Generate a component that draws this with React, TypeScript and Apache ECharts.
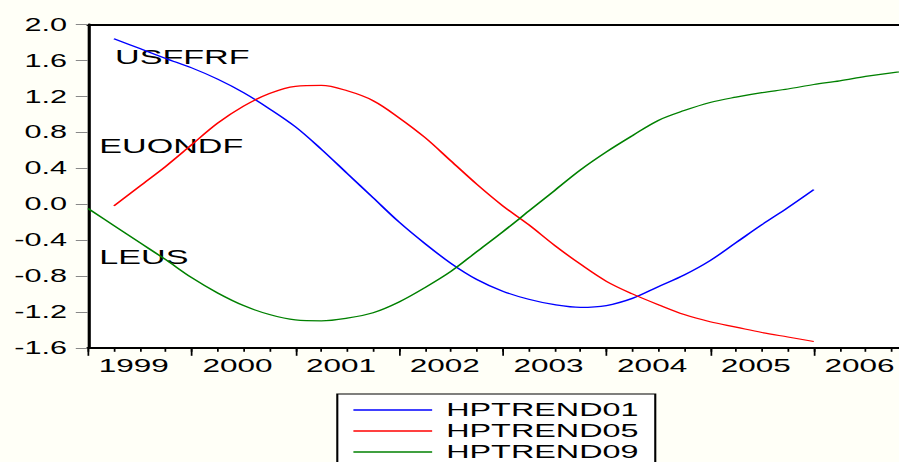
import React, { useEffect, useRef } from "react";
import * as echarts from "echarts";

// Quarterly periods, 1999Q1 .. 2007Q1 (index 0 .. 32)
const quarters: string[] = [
  "1999Q1", "1999Q2", "1999Q3", "1999Q4",
  "2000Q1", "2000Q2", "2000Q3", "2000Q4",
  "2001Q1", "2001Q2", "2001Q3", "2001Q4",
  "2002Q1", "2002Q2", "2002Q3", "2002Q4",
  "2003Q1", "2003Q2", "2003Q3", "2003Q4",
  "2004Q1", "2004Q2", "2004Q3", "2004Q4",
  "2005Q1", "2005Q2", "2005Q3", "2005Q4",
  "2006Q1", "2006Q2", "2006Q3", "2006Q4",
  "2007Q1",
];

const hptrend01: (number | null)[] = [
  null, 1.84, 1.73, 1.62, 1.515, 1.39, 1.24, 1.06, 0.86, 0.61, 0.34, 0.07,
  -0.2, -0.44, -0.66, -0.84, -0.97, -1.06, -1.12, -1.15, -1.13, -1.05, -0.92,
  -0.79, -0.63, -0.43, -0.23, -0.04, 0.16, null, null, null, null,
];

const hptrend05: (number | null)[] = [
  null, -0.02, 0.2, 0.42, 0.66, 0.9, 1.09, 1.23, 1.31, 1.32, 1.26, 1.15,
  0.96, 0.74, 0.48, 0.22, -0.02, -0.23, -0.46, -0.67, -0.86, -1.0, -1.12,
  -1.23, -1.31, -1.37, -1.43, -1.48, -1.53, null, null, null, null,
];

const hptrend09: (number | null)[] = [
  -0.05, -0.24, -0.43, -0.62, -0.82, -0.99, -1.13, -1.23, -1.29, -1.3, -1.27,
  -1.21, -1.09, -0.93, -0.75, -0.53, -0.31, -0.08, 0.15, 0.38, 0.58, 0.76,
  0.93, 1.04, 1.13, 1.19, 1.24, 1.28, 1.33, 1.37, 1.42, 1.46, 1.49,
];

const seriesNames = ["HPTREND01", "HPTREND05", "HPTREND09"];
const seriesValues = [hptrend01, hptrend05, hptrend09];
const seriesColors = ["#0000ff", "#ff0000", "#008000"];

const annotations = ["USFFRF", "EUONDF", "LEUS"];

// The reference is horizontally stretched; draw at a narrower width and scale.
const S = 1.75;
const W = 540;
const H = 462;
const FONT = "'Liberation Sans', Arial, sans-serif";

export default function App() {
  const ref = useRef<HTMLDivElement>(null);

  useEffect(() => {
    if (!ref.current) return;
    const chart = echarts.init(ref.current, null, { renderer: "svg", width: W, height: H });

    const toPairs = (arr: (number | null)[]) =>
      arr
        .map((v, i) => (v == null ? null : [i, v]))
        .filter((p) => p !== null) as number[][];

    const xBase = {
      type: "value" as const,
      min: 0,
      max: quarters.length - 1,
      gridIndex: 0,
      splitLine: { show: false },
    };

    const annX = [115 / S, 99.3 / S, 99.3 / S];
    const annY = [57.5, 146.5, 257.5];

    chart.setOption({
      animation: false,
      backgroundColor: "transparent",
      grid: {
        left: 50.3,
        right: W - (88 + 32 * 25.92) / S,
        top: 24.3,
        bottom: H - 347.8,
        show: true,
        backgroundColor: "#ffffff",
        borderWidth: 0,
      },
      xAxis: [
        {
          ...xBase,
          interval: 1,
          position: "bottom",
          axisLine: { show: true, onZero: false, lineStyle: { color: "#000", width: 2 } },
          axisTick: { show: true, length: 4, lineStyle: { color: "#000", width: 1 } },
          axisLabel: { show: false },
        },
        {
          ...xBase,
          interval: 4,
          position: "bottom",
          axisLine: { show: false, onZero: false },
          axisTick: { show: true, length: 8, lineStyle: { color: "#000", width: 1 } },
          axisLabel: { show: false },
        },
        {
          ...xBase,
          interval: 2,
          position: "bottom",
          axisLine: { show: false, onZero: false },
          axisTick: { show: false },
          axisLabel: {
            show: true,
            margin: 9,
            fontSize: 18,
            color: "#000",
            fontFamily: FONT,
            padding: [0, 7, 0, 0],
            formatter: (v: number) =>
              Number.isInteger(v) && v % 4 === 2 ? quarters[v].slice(0, 4) : "",
          },
        },
        {
          ...xBase,
          interval: 4,
          position: "top",
          axisLine: { show: true, onZero: false, lineStyle: { color: "#000", width: 2 } },
          axisTick: { show: false },
          axisLabel: { show: false },
        },
      ],
      yAxis: {
        type: "value",
        min: -1.6,
        max: 2.0,
        interval: 0.4,
        position: "left",
        axisLine: { show: true, onZero: false, lineStyle: { color: "#000", width: 1.8 } },
        axisTick: { show: true, length: 7, lineStyle: { color: "#888", width: 1 } },
        axisLabel: {
          margin: 12,
          fontSize: 17.5,
          color: "#000",
          fontFamily: FONT,
          formatter: (v: number) => v.toFixed(1),
        },
        splitLine: { show: false },
      },
      legend: {
        orient: "vertical",
        left: 337.3 / S,
        top: 394,
        height: 90,
        icon: "rect",
        itemWidth: 45,
        itemHeight: 1.4,
        itemGap: 2,
        padding: [6.5, 9.5, 10, 9.2],
        borderColor: "#000",
        borderWidth: 1.2,
        backgroundColor: "#ffffff",
        textStyle: {
          fontSize: 18.5,
          lineHeight: 18.5,
          color: "#000",
          fontFamily: FONT,
          padding: [0, 0, 0, 3],
        },
        data: seriesNames,
      },
      graphic: annotations.map((t, k) => ({
        type: "text",
        x: annX[k],
        y: annY[k],
        silent: true,
        style: {
          text: t,
          fill: "#000",
          fontSize: 19.5,
          fontFamily: FONT,
          verticalAlign: "middle",
        },
      })),
      series: seriesNames.map((name, k) => ({
        type: "line",
        name,
        xAxisIndex: 0,
        yAxisIndex: 0,
        data: toPairs(seriesValues[k]),
        symbol: "none",
        showSymbol: false,
        smooth: 0.35,
        clip: true,
        lineStyle: { color: seriesColors[k], width: 1.2 },
        itemStyle: { color: seriesColors[k] },
      })),
    });

    return () => chart.dispose();
  }, []);

  return (
    <div
      style={{
        position: "fixed",
        left: 0,
        top: 0,
        width: 899,
        height: 462,
        overflow: "hidden",
        background: "#fffff7",
      }}
    >
      <div
        ref={ref}
        style={{ width: W, height: H, transform: `scaleX(${S})`, transformOrigin: "0 0" }}
      />
    </div>
  );
}
